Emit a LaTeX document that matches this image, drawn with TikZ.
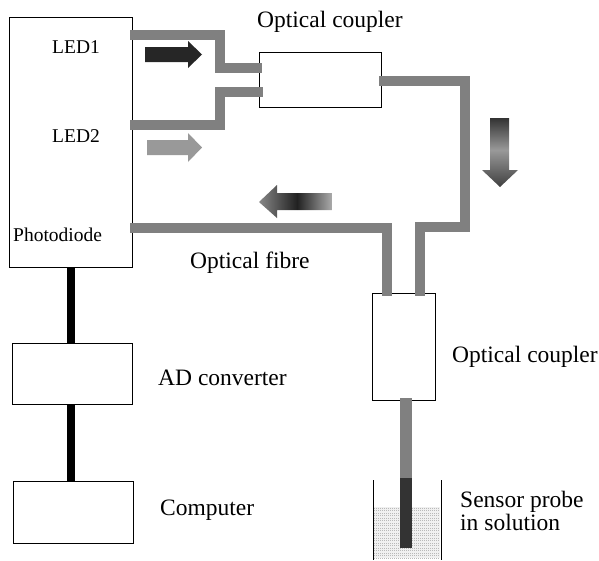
\documentclass[tikz,border=0pt]{standalone}
\usepackage{fontspec}
\setmainfont{Liberation Serif}
\begin{document}
\begin{tikzpicture}[x=1pt,y=-1pt,
  box/.style={draw=black,line width=0.8pt,fill=white,inner sep=0pt,outer sep=0pt},
  fibre/.style={draw=gray,line width=10pt,line join=miter,line cap=butt},
  cable/.style={draw=black,line width=8pt},
  inlbl/.style={inner sep=0pt,anchor=base west,font=\fontsize{19.5}{23}\selectfont},
  outlbl/.style={inner sep=0pt,anchor=base west,font=\fontsize{23.5}{23}\selectfont,align=left}]
\useasboundingbox (0,0) rectangle (599,560);

% boxes
\node[box,minimum width=123pt,minimum height=250pt] (main) at (70.5,142) {};
\node[box,minimum width=122pt,minimum height=55pt] (c1) at (320,79.5) {};
\node[box,minimum width=63pt,minimum height=107pt] (c2) at (403.5,346.5) {};
\node[box,minimum width=120pt,minimum height=61pt] (adc) at (72,373.5) {};
\node[box,minimum width=120pt,minimum height=62pt] (comp) at (73,512) {};

% cables
\draw[cable] (main.south) -- (main.south |- adc.north);
\draw[cable] (adc.south -| main.south) -- (main.south |- comp.north);

% fibre bend points
\coordinate (a1) at (130,35);
\coordinate (a2) at (262,68);
\coordinate (b1) at (130,125);
\coordinate (b2) at (263,92);
\coordinate (o1) at (379,81);
\coordinate (o2) at (420,296);
\coordinate (p1) at (130,228);
\coordinate (p2) at (387,296);

\draw[fibre] (a1) -- (220,35) -- (220,68) -- (a2);
\draw[fibre] (b1) -- (220,125) -- (220,92) -- (b2);
\draw[fibre] (o1) -- (465,81) -- (465,227) -- (420,227) -- (o2);
\draw[fibre] (p1) -- (387,228) -- (p2);

% probe
\coordinate (pr0) at (406,398);
\coordinate (pr1) at (406,478);
\coordinate (pr2) at (406,548);

% liquid
\fill[gray!12] (374,507) rectangle (440,558);
\foreach \yy in {508,510.5,...,558} {
  \draw[gray!55,line width=0.4pt,dash pattern=on 1pt off 1pt] (374,\yy) -- (440,\yy);
}
\draw[line width=1pt] (373,480) -- (373,560);
\draw[line width=1pt] (441,480) -- (441,560);

\draw[draw=gray,line width=12pt] (pr0) -- (pr1);
\draw[draw=black!80,line width=12pt] (pr1) -- (pr2);

% arrows
\fill[black!85] (145,47) -- (188,47) -- (188,41) -- (202,54.5) -- (188,68) -- (188,62) -- (145,62) -- cycle;
\fill[gray!80] (147,140) -- (188,140) -- (188,133) -- (202,147.5) -- (188,162) -- (188,155) -- (147,155) -- cycle;

% left arrow with horizontal gradient (medium - dark - light)
\begin{scope}
\clip (332,193) -- (277,193) -- (277,185) -- (259,202) -- (277,218) -- (277,210) -- (332,210) -- cycle;
\foreach \i in {0,...,73} {
  \pgfmathsetmacro{\xx}{259+\i}
  \pgfmathsetmacro{\g}{\xx<297 ? 47+(\xx-259)/38*40 : 87-(\xx-297)/35*54}
  \fill[black!\g!white] (\xx-0.1,180) rectangle (\xx+1.1,222);
}
\end{scope}

% down arrow with vertical gradient (dark - light - dark)
\begin{scope}
\clip (490,118) -- (509,118) -- (509,170) -- (518,170) -- (500,187) -- (482,170) -- (490,170) -- cycle;
\foreach \i in {0,...,69} {
  \pgfmathsetmacro{\yy}{118+\i}
  \pgfmathsetmacro{\g}{\yy<150 ? 80-(\yy-118)/32*40 : 40+(\yy-150)/37*35}
  \fill[black!\g!white] (478,\yy-0.1) rectangle (522,\yy+1.1);
}
\end{scope}

% labels
\node[inlbl] (led1) at (52,53) {LED1};
\node[inlbl] (led2) at (52,142) {LED2};
\node[inlbl] (pd) at (13,241) {Photodiode};
\node[outlbl] (lc1) at (257,27) {Optical coupler};
\node[outlbl] (lfib) at (190,268) {Optical fibre};
\node[outlbl] (lc2) at (452,362) {Optical coupler};
\node[outlbl] (ladc) at (158,385) {AD converter};
\node[outlbl] (lcomp) at (160,515) {Computer};
\node[outlbl] (lsp) at (460,507) {Sensor probe};
\node[outlbl] (lsp2) at (460,530) {in solution};
\end{tikzpicture}
\end{document}
